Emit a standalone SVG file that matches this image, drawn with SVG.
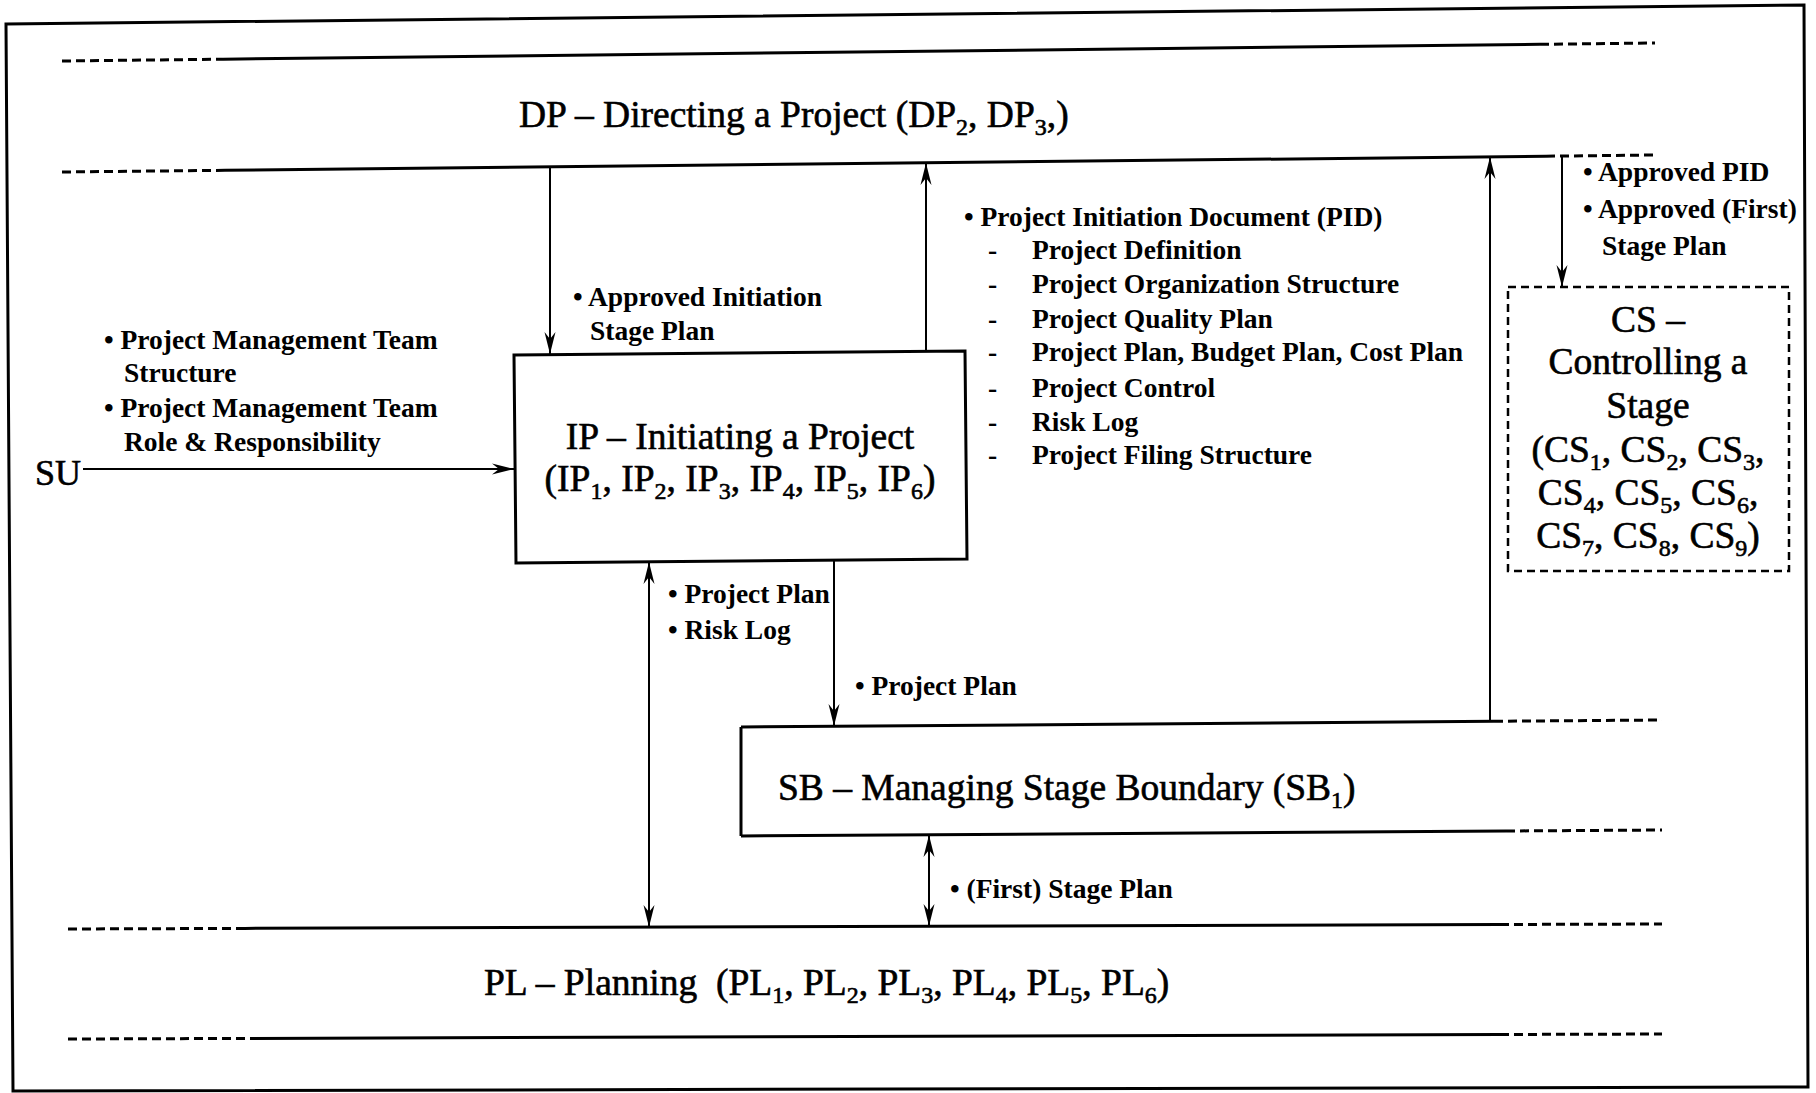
<svg xmlns="http://www.w3.org/2000/svg" width="1816" height="1093" viewBox="0 0 1816 1093">
  <defs>
    <marker id="arrow" viewBox="-22 -6 22 12" markerWidth="22" markerHeight="12" refX="0" refY="0" orient="auto-start-reverse" markerUnits="userSpaceOnUse">
      <path d="M0,0 L-22,-5.5 L-15,0 L-22,5.5 Z" fill="#000"/>
    </marker>
    <style>
      .frame { fill: none; stroke: #000; stroke-width: 3; stroke-linejoin: miter; }
      .band { stroke: #000; stroke-width: 3; fill: none; }
      .band-dash { stroke: #000; stroke-width: 3; fill: none; stroke-dasharray: 9 5; }
      .box { fill: none; stroke: #000; stroke-width: 3; }
      .box-dash { fill: none; stroke: #000; stroke-width: 2.5; stroke-dasharray: 8 5; }
      .flow { stroke: #000; stroke-width: 2; fill: none; }
      .title { font-family: "Liberation Serif", "Times New Roman", serif; font-size: 37.5px; fill: #000; stroke: #000; stroke-width: 0.6px; }
      .label { font-family: "Liberation Serif", "Times New Roman", serif; font-size: 27.5px; font-weight: bold; fill: #000; }
      .mid { text-anchor: middle; }
      .sub { font-size: 24px; }
    </style>
  </defs>

  <rect x="0" y="0" width="1816" height="1093" fill="#fff"/>

  <!-- outer frame -->
  <polygon class="frame" points="6,24 1804,5 1808,1087 13,1091"/>

  <!-- DP: Directing a Project band -->
  <g id="dp">
    <line class="band-dash" x1="62" y1="61" x2="223" y2="59.2"/>
    <line class="band" x1="223" y1="59.2" x2="1540" y2="44.3"/>
    <line class="band-dash" x1="1540" y1="44.3" x2="1655" y2="43"/>
    <line class="band-dash" x1="62" y1="172" x2="225" y2="170.3"/>
    <line class="band" x1="225" y1="170.3" x2="1546" y2="156.2"/>
    <line class="band-dash" x1="1546" y1="156.2" x2="1655" y2="155"/>
    <text class="title" x="519" y="127">DP – Directing a Project (DP<tspan class="sub" dy="8">2</tspan><tspan dy="-8">, DP</tspan><tspan class="sub" dy="8">3</tspan><tspan dy="-8">,)</tspan></text>
  </g>

  <!-- SU: start-up entry -->
  <g id="su">
    <text class="title" x="35" y="485" style="font-size:36px">SU</text>
  </g>

  <!-- IP: Initiating a Project -->
  <g id="ip">
    <polygon class="box" points="514,355 965,351 967,559 516,563"/>
    <text class="title mid" x="740" y="449">IP – Initiating a Project</text>
    <text class="title mid" x="740" y="491">(IP<tspan class="sub" dy="8">1</tspan><tspan dy="-8">, IP</tspan><tspan class="sub" dy="8">2</tspan><tspan dy="-8">, IP</tspan><tspan class="sub" dy="8">3</tspan><tspan dy="-8">, IP</tspan><tspan class="sub" dy="8">4</tspan><tspan dy="-8">, IP</tspan><tspan class="sub" dy="8">5</tspan><tspan dy="-8">, IP</tspan><tspan class="sub" dy="8">6</tspan><tspan dy="-8">)</tspan></text>
  </g>

  <!-- CS: Controlling a Stage -->
  <g id="cs">
    <rect class="box-dash" x="1508" y="287" width="281" height="284"/>
    <text class="title mid" x="1648" y="332">CS –</text>
    <text class="title mid" x="1648" y="374">Controlling a</text>
    <text class="title mid" x="1648" y="418">Stage</text>
    <text class="title mid" x="1648" y="462">(CS<tspan class="sub" dy="8">1</tspan><tspan dy="-8">, CS</tspan><tspan class="sub" dy="8">2</tspan><tspan dy="-8">, CS</tspan><tspan class="sub" dy="8">3</tspan><tspan dy="-8">,</tspan></text>
    <text class="title mid" x="1648" y="505">CS<tspan class="sub" dy="8">4</tspan><tspan dy="-8">, CS</tspan><tspan class="sub" dy="8">5</tspan><tspan dy="-8">, CS</tspan><tspan class="sub" dy="8">6</tspan><tspan dy="-8">,</tspan></text>
    <text class="title mid" x="1648" y="548">CS<tspan class="sub" dy="8">7</tspan><tspan dy="-8">, CS</tspan><tspan class="sub" dy="8">8</tspan><tspan dy="-8">, CS</tspan><tspan class="sub" dy="8">9</tspan><tspan dy="-8">)</tspan></text>
  </g>

  <!-- SB: Managing Stage Boundary (open on the right) -->
  <g id="sb">
    <line class="band" x1="741" y1="727" x2="1494" y2="721.3"/>
    <line class="band-dash" x1="1494" y1="721.3" x2="1662" y2="720"/>
    <line class="band" x1="741" y1="836" x2="1506" y2="831"/>
    <line class="band-dash" x1="1506" y1="831" x2="1662" y2="830"/>
    <line class="band" x1="741" y1="727" x2="741" y2="836"/>
    <text class="title" x="778" y="800">SB – Managing Stage Boundary (SB<tspan class="sub" dy="8">1</tspan><tspan dy="-8">)</tspan></text>
  </g>

  <!-- PL: Planning band -->
  <g id="pl">
    <line class="band-dash" x1="68" y1="929" x2="245" y2="928.4"/>
    <line class="band" x1="245" y1="928.4" x2="1500" y2="924.5"/>
    <line class="band-dash" x1="1500" y1="924.5" x2="1662" y2="924"/>
    <line class="band-dash" x1="68" y1="1039" x2="250" y2="1038.4"/>
    <line class="band" x1="250" y1="1038.4" x2="1500" y2="1034.5"/>
    <line class="band-dash" x1="1500" y1="1034.5" x2="1662" y2="1034"/>
    <text class="title" x="484" y="995" xml:space="preserve">PL – Planning  (PL<tspan class="sub" dy="8">1</tspan><tspan dy="-8">, PL</tspan><tspan class="sub" dy="8">2</tspan><tspan dy="-8">, PL</tspan><tspan class="sub" dy="8">3</tspan><tspan dy="-8">, PL</tspan><tspan class="sub" dy="8">4</tspan><tspan dy="-8">, PL</tspan><tspan class="sub" dy="8">5</tspan><tspan dy="-8">, PL</tspan><tspan class="sub" dy="8">6</tspan><tspan dy="-8">)</tspan></text>
  </g>

  <!-- connectors -->
  <g id="connectors">
    <line class="flow" x1="83" y1="469" x2="514" y2="469" marker-end="url(#arrow)"/>
    <line class="flow" x1="550" y1="167" x2="550" y2="354" marker-end="url(#arrow)"/>
    <line class="flow" x1="926" y1="352" x2="926" y2="163" marker-end="url(#arrow)"/>
    <line class="flow" x1="1490" y1="721" x2="1490" y2="157" marker-end="url(#arrow)"/>
    <line class="flow" x1="1562" y1="156" x2="1562" y2="287" marker-end="url(#arrow)"/>
    <line class="flow" x1="649" y1="562" x2="649" y2="927" marker-start="url(#arrow)" marker-end="url(#arrow)"/>
    <line class="flow" x1="834" y1="561" x2="834" y2="726" marker-end="url(#arrow)"/>
    <line class="flow" x1="929" y1="835" x2="929" y2="926" marker-start="url(#arrow)" marker-end="url(#arrow)"/>
  </g>

  <!-- connector labels -->
  <g id="labels">
    <text class="label" x="104" y="349">• Project Management Team</text>
    <text class="label" x="124" y="382">Structure</text>
    <text class="label" x="104" y="417">• Project Management Team</text>
    <text class="label" x="124" y="451">Role &amp; Responsibility</text>

    <text class="label" x="573" y="306">• Approved Initiation</text>
    <text class="label" x="590" y="340">Stage Plan</text>

    <text class="label" x="964" y="226">• Project Initiation Document (PID)</text>
    <text class="label" x="988" y="259">-</text><text class="label" x="1032" y="259">Project Definition</text>
    <text class="label" x="988" y="293">-</text><text class="label" x="1032" y="293">Project Organization Structure</text>
    <text class="label" x="988" y="328">-</text><text class="label" x="1032" y="328">Project Quality Plan</text>
    <text class="label" x="988" y="361">-</text><text class="label" x="1032" y="361">Project Plan, Budget Plan, Cost Plan</text>
    <text class="label" x="988" y="397">-</text><text class="label" x="1032" y="397">Project Control</text>
    <text class="label" x="988" y="431">-</text><text class="label" x="1032" y="431">Risk Log</text>
    <text class="label" x="988" y="464">-</text><text class="label" x="1032" y="464">Project Filing Structure</text>

    <text class="label" x="1583" y="181">• Approved PID</text>
    <text class="label" x="1583" y="218">• Approved (First)</text>
    <text class="label" x="1602" y="255">Stage Plan</text>

    <text class="label" x="668" y="603">• Project Plan</text>
    <text class="label" x="668" y="639">• Risk Log</text>
    <text class="label" x="855" y="695">• Project Plan</text>
    <text class="label" x="950" y="898">• (First) Stage Plan</text>
  </g>
</svg>
